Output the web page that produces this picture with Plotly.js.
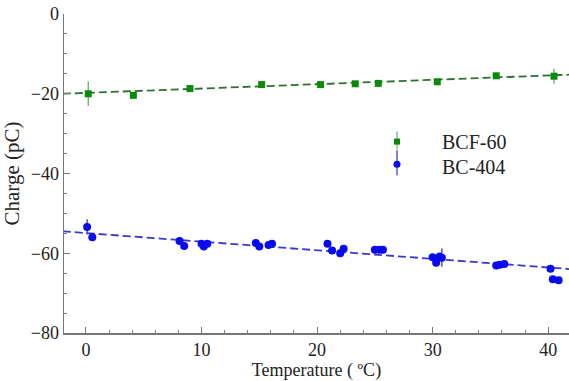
<!DOCTYPE html>
<html>
<head>
<meta charset="utf-8">
<script src="https://cdn.plot.ly/plotly-3.0.1.min.js"></script>
<style>html,body{margin:0;padding:0;background:#fff;}#chart{width:569px;height:381px;}</style>
</head>
<body>
<div id="chart"></div>
<script>
// BCF-60 measurements
const bcfTemp   = [0.2, 4.1, 9.0, 15.2, 20.3, 23.3, 25.3, 30.4, 35.5, 40.5];
const bcfCharge = [-20.0, -20.4, -18.7, -17.7, -17.7, -17.5, -17.4, -17.0, -15.5, -15.6];
const bcfErr    = [3.1, 0.6, 0.5, 0.5, 0.5, 0.5, 0.5, 0.5, 0.5, 1.9];

// BC-404 measurements
const bcTemp   = [0.1, 0.55, 8.1, 8.5, 10.0, 10.2, 10.5, 14.7, 15.0, 15.8, 16.1,
                  20.9, 21.3, 22.0, 22.3, 25.0, 25.4, 25.7, 30.0, 30.3, 30.6, 30.8,
                  35.5, 35.8, 36.2, 40.2, 40.4, 40.9];
const bcCharge = [-53.4, -56.0, -56.9, -58.2, -57.6, -58.3, -57.6, -57.4, -58.3, -57.9, -57.6,
                  -57.6, -59.3, -60.0, -58.9, -59.1, -59.1, -59.1, -61.0, -62.4, -60.8, -61.1,
                  -63.1, -62.9, -62.7, -63.9, -66.5, -66.8];
const bcErr    = [1.9, 0.4, 0.4, 0.4, 0.4, 0.4, 0.4, 0.4, 0.4, 0.4, 0.4,
                  0.4, 0.4, 0.4, 0.4, 0.4, 0.4, 0.4, 0.4, 0.4, 0.4, 2.3,
                  0.4, 0.4, 0.4, 0.4, 0.4, 0.4];

// Linear fit lines (end points)
const fitTemp      = [-2, 42];
const bcfFitCharge = [-20.0, -15.2];
const bcFitCharge  = [-54.5, -64.0];

// Legend labels
const seriesNames = ['BCF-60', 'BC-404'];

const serif = "Liberation Serif, Times New Roman, serif";
const txt = '#222';
const green = '#0a8a0a', blue = '#0a0af0';

const traces = [
  {x: fitTemp, y: bcfFitCharge, mode: 'lines', showlegend: false, hoverinfo: 'skip',
   line: {color: '#2f6f2f', width: 1.8, dash: '8px,4px'}},
  {x: fitTemp, y: bcFitCharge, mode: 'lines', showlegend: false, hoverinfo: 'skip',
   line: {color: '#3a3ac8', width: 1.8, dash: '8px,4px'}},
  {x: bcfTemp, y: bcfCharge, name: seriesNames[0], mode: 'markers', type: 'scatter', showlegend: false,
   marker: {symbol: 'square', size: 7, color: green},
   error_y: {type: 'data', array: bcfErr, visible: true, color: '#6aa86a', thickness: 1.3, width: 0}},
  {x: bcTemp, y: bcCharge, name: seriesNames[1], mode: 'markers', type: 'scatter', showlegend: false,
   marker: {symbol: 'circle', size: 8, color: blue},
   error_y: {type: 'data', array: bcErr, visible: true, color: '#3030c0', thickness: 1.3, width: 0}}
];

// hand-built legend (keys with error bars, as in the reference)
const keyX = 0.6594, textX = 0.7446;
const keyY = [0.600, 0.5288];
const shapes = [
  {type: 'line', xref: 'paper', yref: 'paper', xsizemode: 'pixel', ysizemode: 'pixel',
   xanchor: keyX, yanchor: keyY[0], x0: 0, x1: 0, y0: -8, y1: 10, line: {color: '#7ab07a', width: 1.3}},
  {type: 'rect', xref: 'paper', yref: 'paper', xsizemode: 'pixel', ysizemode: 'pixel',
   xanchor: keyX, yanchor: keyY[0], x0: -3, x1: 3, y0: -3, y1: 3, fillcolor: green, line: {width: 0}},
  {type: 'line', xref: 'paper', yref: 'paper', xsizemode: 'pixel', ysizemode: 'pixel',
   xanchor: keyX, yanchor: keyY[1], x0: 0, x1: 0, y0: -11, y1: 14, line: {color: '#4040c0', width: 1.3}},
  {type: 'circle', xref: 'paper', yref: 'paper', xsizemode: 'pixel', ysizemode: 'pixel',
   xanchor: keyX, yanchor: keyY[1], x0: -3.5, x1: 3.5, y0: -3.5, y1: 3.5, fillcolor: blue, line: {width: 0}}
];
const annotations = seriesNames.map((n, i) => ({
  text: n, xref: 'paper', yref: 'paper', x: textX, y: [0.600, 0.5213][i],
  xanchor: 'left', yanchor: 'middle', showarrow: false,
  font: {family: serif, size: 20, color: txt}
}));

const layout = {
  width: 569, height: 381,
  margin: {l: 64, r: 0, t: 14, b: 48},
  paper_bgcolor: '#fff', plot_bgcolor: '#fff',
  font: {family: serif, size: 18, color: txt},
  showlegend: false,
  shapes: shapes,
  annotations: annotations,
  xaxis: {
    range: [-1.9, 41.8], showgrid: false, zeroline: false,
    showline: true, linecolor: '#777', linewidth: 1.5,
    ticks: 'inside', ticklen: 6, tickcolor: '#777', tickwidth: 1,
    tick0: 0, dtick: 10,
    minor: {ticks: 'inside', ticklen: 3, dtick: 2, tick0: 0, tickcolor: '#777', showgrid: false},
    tickfont: {family: serif, size: 18, color: txt},
    title: {text: 'Temperature ( ºC)', font: {family: serif, size: 18, color: txt}, standoff: 4}
  },
  yaxis: {
    range: [-80, 0], showgrid: false, zeroline: false,
    showline: true, linecolor: '#777', linewidth: 1.5,
    ticks: 'inside', ticklen: 6, tickcolor: '#777', tickwidth: 1,
    tick0: 0, dtick: 20,
    minor: {ticks: 'inside', ticklen: 3, dtick: 5, tick0: 0, tickcolor: '#777', showgrid: false},
    tickfont: {family: serif, size: 18, color: txt},
    title: {text: 'Charge (pC)', font: {family: serif, size: 21, color: txt}, standoff: 6}
  }
};

Plotly.newPlot('chart', traces, layout, {staticPlot: true, displayModeBar: false});
</script>
</body>
</html>
